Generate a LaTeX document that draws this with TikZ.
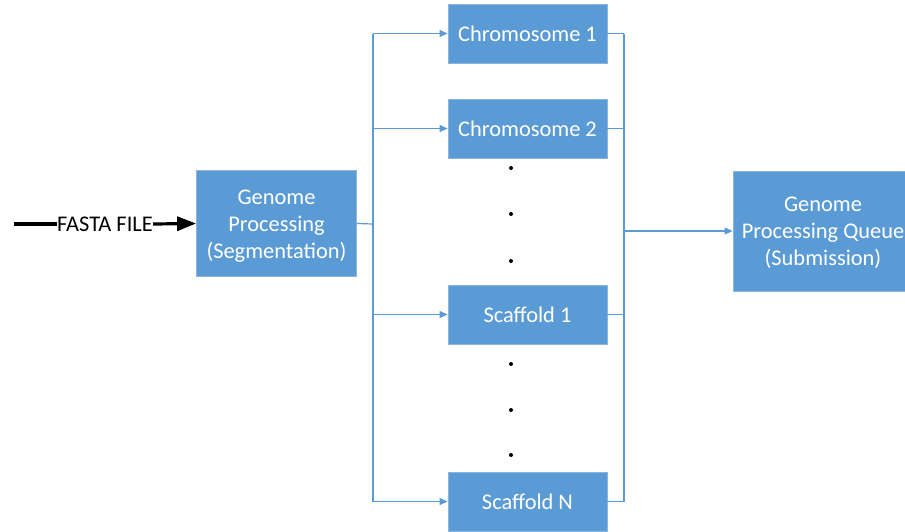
\documentclass[tikz,border=0pt]{standalone}
\usepackage{fontspec}
\setmainfont{Carlito}
\usetikzlibrary{arrows.meta}
\definecolor{boxblue}{HTML}{5B9BD5}
\definecolor{boxedge}{HTML}{8DB6DE}
\begin{document}
\begin{tikzpicture}[x=1pt,y=-1pt,
  blk/.style={fill=boxblue, draw=boxedge, line width=0.8pt, text=white,
    align=center, font=\fontsize{22.4}{27}\selectfont, inner sep=0pt},
  link/.style={draw=boxblue, line width=1.2pt},
  feed/.style={link, -{Triangle[length=8pt,width=7pt]}},
  inputline/.style={line width=3.2pt},
  dotmark/.style={circle, fill=black, inner sep=0pt, minimum size=4pt}]
\useasboundingbox (0,0) rectangle (905,531);

% processing stages
\node[blk, minimum width=160pt, minimum height=106pt] (gp) at (276.5,223.5)
  {\rule{0pt}{20.4pt}Genome\\Processing\\(Segmentation)};
\node[blk, minimum width=159pt, minimum height=59pt] (c1) at (527.5,33.5) {Chromosome 1};
\node[blk, minimum width=159pt, minimum height=59pt] (c2) at (527.5,128.5) {Chromosome 2};
\node[blk, minimum width=159pt, minimum height=59pt] (s1) at (527.5,314.5) {Scaffold 1};
\node[blk, minimum width=159pt, minimum height=59pt] (sN) at (527.5,501.5) {Scaffold N};
\node[blk, minimum width=180pt, minimum height=120pt] (q) at (823,231)
  {\rule{0pt}{18.4pt}Genome\\Processing Queue\\(Submission)};

% ellipsis dots between segments
\foreach \yy [count=\i] in {168,214,261,364,410,455}
  \node[dotmark] (d\i) at (511,\yy) {};

% input file
\coordinate (src) at (14,224);
\node[font=\fontsize{22.4}{27}\selectfont, inner sep=0pt] (fasta) at (105,224) {FASTA FILE};
\draw[inputline] (src) -- (fasta.west);
\draw[inputline, -{Triangle[length=19pt,width=14pt]}] (fasta.east) -- (gp.west);

% fan-out to segments
\coordinate (split) at (373,224);
\draw[link] (gp.east) -- (split);
\draw[link] (split |- c1.west) -- (split |- sN.west);
\foreach \t in {c1,c2,s1,sN}
  \draw[feed] (split |- \t.west) -- (\t.west);

% fan-in to the queue
\coordinate (merge) at (624,231);
\draw[link] (merge |- c1.east) -- (merge |- sN.east);
\foreach \t in {c1,c2,s1,sN}
  \draw[link] (\t.east) -- (merge |- \t.east);
\draw[feed] (merge) -- (q.west);
\end{tikzpicture}
\end{document}
